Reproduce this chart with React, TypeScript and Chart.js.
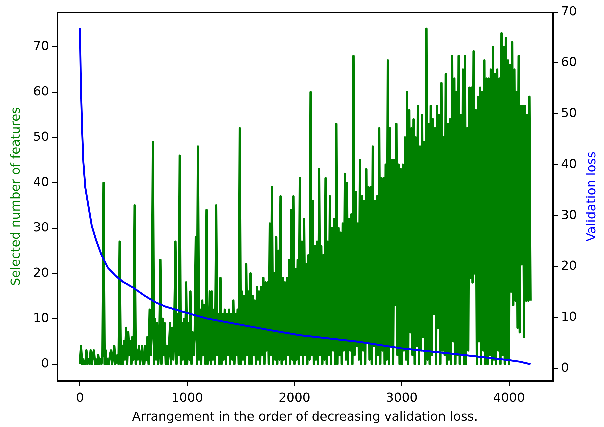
import React, { useEffect, useRef } from "react";
import { Chart, registerables } from "chart.js";

Chart.register(...registerables);

// Selected number of features, sampled every 10th model (index 0 .. 4200)
const featureStep = 10;
const selectedFeatures = [
  0, 4, 0, 1, 0, 0, 3, 0, 1, 0, 3, 0, 2, 3, 0, 1, 0, 2, 0, 1,
  0, 2, 40, 0, 3, 0, 1, 0, 2, 3, 0, 2, 4, 0, 1, 2, 0, 27, 0, 4,
  0, 5, 1, 8, 0, 7, 2, 5, 0, 6, 1, 35, 0, 3, 1, 4, 0, 2, 4, 0,
  0, 4, 1, 6, 0, 12, 2, 7, 49, 0, 10, 1, 9, 0, 5, 23, 0, 10, 2, 9,
  0, 4, 0, 3, 9, 0, 8, 1, 9, 27, 0, 11, 2, 46, 0, 9, 1, 10, 0, 18,
  0, 9, 1, 16, 0, 7, 2, 7, 28, 0, 48, 1, 12, 0, 14, 2, 13, 0, 34, 0,
  1, 16, 0, 16, 1, 12, 0, 35, 2, 11, 0, 19, 0, 11, 1, 12, 0, 11, 2, 12,
  0, 11, 1, 14, 0, 11, 2, 12, 0, 52, 0, 16, 1, 15, 0, 22, 2, 16, 0, 20,
  0, 15, 2, 14, 0, 17, 1, 16, 0, 17, 2, 19, 0, 18, 3, 18, 0, 31, 2, 39,
  0, 20, 1, 28, 0, 25, 1, 37, 0, 19, 1, 18, 0, 19, 2, 23, 0, 34, 1, 37,
  0, 21, 1, 23, 0, 41, 2, 27, 0, 32, 2, 22, 0, 24, 1, 60, 2, 36, 0, 26,
  1, 27, 0, 43, 2, 26, 0, 24, 1, 41, 0, 27, 2, 37, 0, 30, 3, 32, 0, 53,
  0, 30, 2, 29, 0, 31, 3, 42, 1, 40, 0, 32, 3, 33, 0, 68, 2, 38, 4, 31,
  1, 45, 0, 37, 3, 36, 0, 43, 5, 39, 1, 39, 0, 48, 4, 36, 0, 37, 2, 52,
  0, 41, 3, 41, 0, 44, 1, 67, 0, 52, 4, 45, 0, 45, 13, 53, 2, 44, 0, 43,
  0, 44, 3, 50, 1, 60, 0, 56, 7, 52, 2, 54, 0, 50, 4, 57, 0, 48, 3, 55,
  6, 49, 0, 74, 1, 53, 0, 57, 2, 54, 11, 52, 0, 57, 8, 55, 0, 62, 3, 50,
  2, 64, 0, 53, 1, 54, 0, 68, 5, 63, 0, 60, 2, 68, 0, 55, 2, 65, 0, 68,
  0, 52, 3, 61, 19, 61, 18, 69, 20, 56, 0, 59, 5, 61, 0, 60, 3, 67, 0, 63,
  0, 63, 2, 65, 0, 70, 1, 64, 0, 65, 3, 63, 0, 73, 2, 70, 0, 72, 1, 67,
  0, 66, 16, 71, 13, 65, 14, 60, 8, 68, 7, 57, 22, 57, 6, 57, 14, 55, 14, 59, 14,
];

// Validation loss curve (read at these model indices)
const lossIndex = [0, 7, 13, 22, 32, 50, 70, 110, 150, 200, 260, 330, 400, 500, 600, 700, 800, 960, 1180, 1460, 1770, 2050, 2600, 3000, 3500, 4000, 4100, 4200];
const validationLoss = [66.8, 58, 52.5, 46, 40.5, 35.5, 33, 28, 25.2, 22.3, 19.8, 18.2, 17, 15.8, 14.3, 13, 12.1, 11.1, 9.8, 8.7, 7.5, 6.5, 5.2, 3.9, 2.8, 1.6, 1.3, 0.8];

const xTicks = [0, 1000, 2000, 3000, 4000];
const leftTicks = [0, 10, 20, 30, 40, 50, 60, 70];
const rightTicks = [0, 10, 20, 30, 40, 50, 60, 70];

const xTitle = "Arrangement in the order of decreasing validation loss.";
const leftTitle = "Selected number of features";
const rightTitle = "Validation loss";

const FAMILY = "'DejaVu Sans', sans-serif";
const SIZE = 12.5;

export default function App() {
  const canvasRef = useRef<HTMLCanvasElement | null>(null);

  useEffect(() => {
    const canvas = canvasRef.current;
    if (!canvas) return;
    const font = { family: FAMILY, size: SIZE };
    const axisGrid = {
      display: true,
      drawOnChartArea: false,
      drawTicks: true,
      tickLength: 5,
      color: "#000",
      lineWidth: 1,
    };
    const axisBorder = { display: true, color: "#000", width: 1 };

    const framePlugin = {
      id: "frame",
      afterDatasetsDraw(chart: any) {
        const { ctx, chartArea: a } = chart;
        ctx.save();
        ctx.strokeStyle = "#000";
        ctx.lineWidth = 1;
        ctx.strokeRect(
          Math.round(a.left) + 0.5,
          Math.round(a.top) + 0.5,
          Math.round(a.right - a.left) - 1,
          Math.round(a.bottom - a.top) - 1
        );
        ctx.restore();
      },
      afterDraw(chart: any) {
        const { ctx, chartArea: a } = chart;
        ctx.save();
        ctx.translate(592, (a.top + a.bottom) / 2);
        ctx.rotate(-Math.PI / 2);
        ctx.fillStyle = "#0000ff";
        ctx.font = `${SIZE}px ${FAMILY}`;
        ctx.textAlign = "center";
        ctx.textBaseline = "middle";
        ctx.fillText(rightTitle, 0, 0);
        ctx.restore();
      },
    };

    const chart = new Chart(canvas, {
      type: "line",
      data: {
        datasets: [
          {
            label: rightTitle,
            data: lossIndex.map((x, i) => ({ x, y: validationLoss[i] })),
            yAxisID: "y1",
            borderColor: "#0000ff",
            backgroundColor: "#0000ff",
            borderWidth: 1.9,
            pointRadius: 0,
            tension: 0,
            order: 0,
          },
          {
            label: leftTitle,
            data: selectedFeatures.map((v, i) => ({ x: i * featureStep, y: v })),
            yAxisID: "y",
            borderColor: "#008000",
            backgroundColor: "#008000",
            borderWidth: 2.3,
            borderJoinStyle: "round",
            pointRadius: 0,
            tension: 0,
            order: 1,
          },
        ],
      },
      options: {
        animation: false,
        responsive: false,
        devicePixelRatio: 3,
        events: [],
        layout: { padding: { top: 12, left: 0, right: 0, bottom: 0 } },
        plugins: { legend: { display: false }, tooltip: { enabled: false } },
        scales: {
          x: {
            type: "linear",
            min: -214,
            max: 4410,
            afterBuildTicks: (s: any) => {
              s.ticks = xTicks.map((v) => ({ value: v }));
            },
            afterFit: (s: any) => {
              s.height = 46;
            },
            ticks: {
              font,
              color: "#000",
              padding: 5,
              maxRotation: 0,
              autoSkip: false,
              callback: (v: any) => String(v),
            },
            grid: axisGrid,
            border: axisBorder,
            title: {
              display: true,
              text: xTitle,
              color: "#000",
              font,
              padding: { top: 0, bottom: 2 },
            },
          },
          y: {
            type: "linear",
            position: "left",
            min: -3.75,
            max: 77.7,
            afterBuildTicks: (s: any) => {
              s.ticks = leftTicks.map((v) => ({ value: v }));
            },
            afterFit: (s: any) => {
              s.width = 57;
            },
            ticks: { font, color: "#000", padding: 3, callback: (v: any) => String(v) },
            grid: axisGrid,
            border: axisBorder,
            title: {
              display: true,
              text: leftTitle,
              color: "#008000",
              font,
              padding: { top: 9, bottom: 0 },
            },
          },
          y1: {
            type: "linear",
            position: "right",
            min: -2.5,
            max: 70,
            afterBuildTicks: (s: any) => {
              s.ticks = rightTicks.map((v) => ({ value: v }));
            },
            afterFit: (s: any) => {
              s.width = 51;
            },
            ticks: { font, color: "#000", padding: 3, callback: (v: any) => String(v) },
            grid: axisGrid,
            border: axisBorder,
          },
        },
      },
      plugins: [framePlugin],
    });

    return () => {
      chart.destroy();
    };
  }, []);

  return (
    <div style={{ position: "absolute", left: 0, top: 0, width: 604, height: 427, background: "#fff" }}>
      <canvas ref={canvasRef} width={604} height={427} style={{ width: 604, height: 427 }} />
    </div>
  );
}
